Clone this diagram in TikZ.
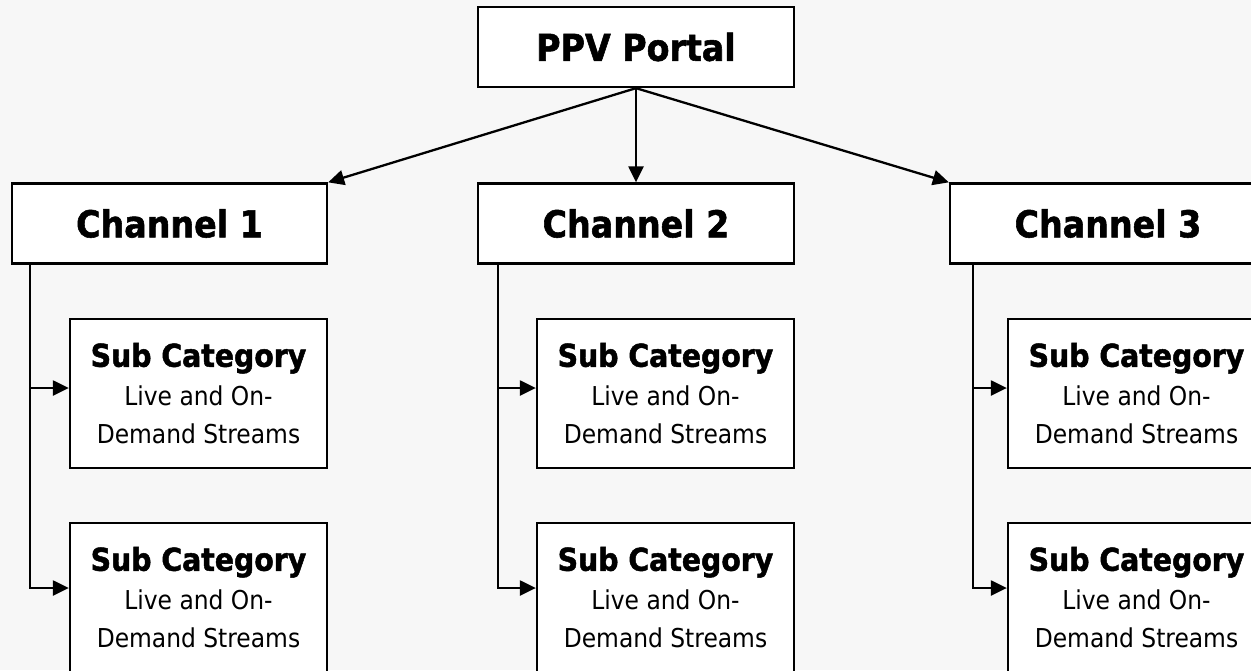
\documentclass[tikz,border=0pt]{standalone}
\usepackage{fontspec}
\setmainfont{DejaVu Sans Condensed}
\newfontface\hbold{DejaVu Sans Condensed Bold}[FakeBold=1.5]
\usetikzlibrary{arrows.meta}
\begin{document}
\begin{tikzpicture}[x=1pt,y=-1pt,
  box/.style={draw=black,line width=2.3pt,fill=white,inner sep=0pt,anchor=center},
  topbox/.style={box,minimum width=316pt,minimum height=80pt,font=\hbold\fontsize{37}{44}\selectfont},
  subbox/.style={box,minimum width=257pt,minimum height=149pt,align=center,font=\fontsize{26}{38.5}\selectfont},
  arr/.style={line width=2.3pt,-{Triangle[length=16pt,width=15pt]}}]
\path[fill=black!3] (0,0) rectangle (1251,670);
\useasboundingbox (0,0) rectangle (1251,670);
\newcommand{\subtxt}{{\hbold\fontsize{31.5}{38.5}\selectfont Sub Category}\\Live and On-\\Demand Streams}
\node[topbox] (ppv) at (636,47) {PPV Portal};
\node[topbox,minimum width=315pt] (ch1) at (169.5,223.5) {Channel 1};
\node[topbox] (ch2) at (636,223.5) {Channel 2};
\node[topbox] (ch3) at (1108,223.5) {Channel 3};
\node[subbox] (s11) at (198.5,393.5) {\subtxt};
\node[subbox] (s12) at (198.5,597.5) {\subtxt};
\node[subbox] (s21) at (665.5,393.5) {\subtxt};
\node[subbox] (s22) at (665.5,597.5) {\subtxt};
\node[subbox] (s31) at (1136.5,393.5) {\subtxt};
\node[subbox] (s32) at (1136.5,597.5) {\subtxt};
\draw[arr] (ppv.south) -- (ch1.north east);
\draw[arr] (ppv.south) -- (ch2.north);
\draw[arr] (ppv.south) -- (ch3.north west);
\coordinate (c1) at (30,263);
\coordinate (c2) at (498,263);
\coordinate (c3) at (973,263);
\draw[arr] (c1) |- ([yshift=5.5pt]s11.west);
\draw[arr] (c1) |- ([yshift=9.5pt]s12.west);
\draw[arr] (c2) |- ([yshift=5.5pt]s21.west);
\draw[arr] (c2) |- ([yshift=9.5pt]s22.west);
\draw[arr] (c3) |- ([yshift=5.5pt]s31.west);
\draw[arr] (c3) |- ([yshift=9.5pt]s32.west);
\end{tikzpicture}
\end{document}
